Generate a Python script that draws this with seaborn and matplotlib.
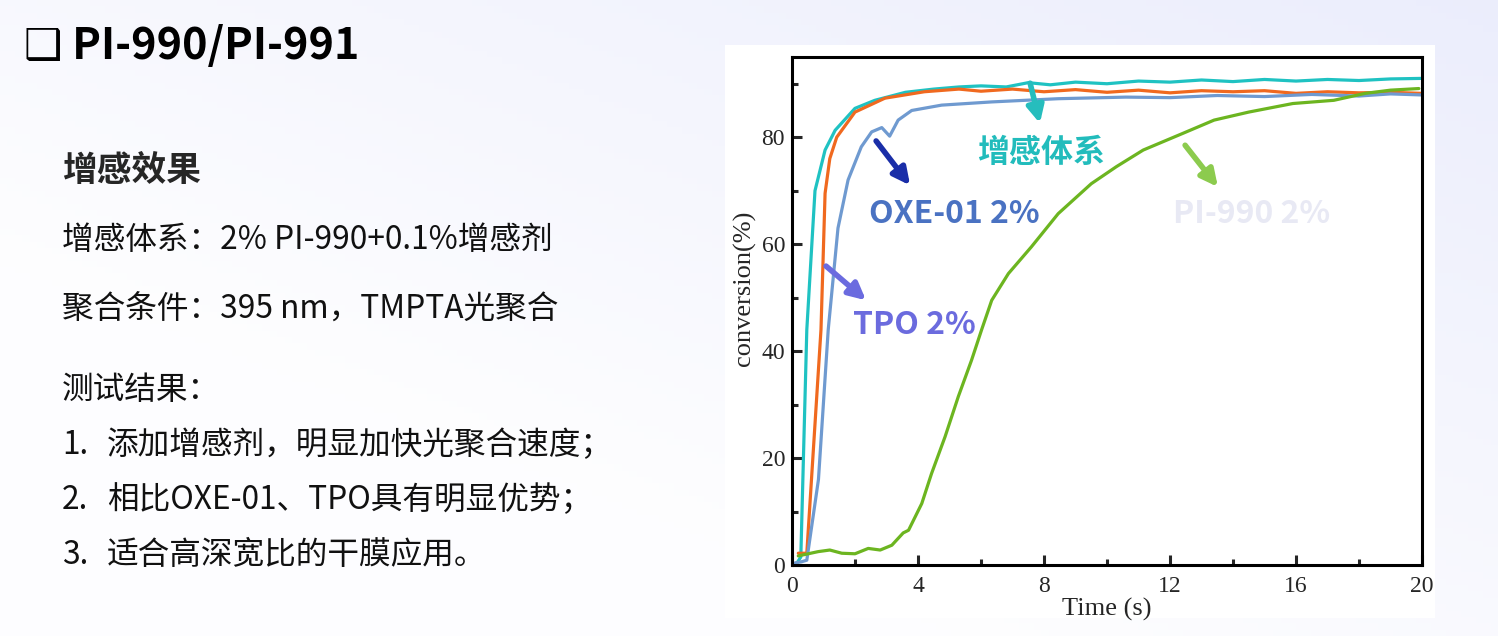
import numpy as np
import pandas as pd
import matplotlib.pyplot as plt
import seaborn as sns
from matplotlib.patches import Rectangle

# Curve data (time in s, conversion in %)
t_sens = [0.15, 0.28, 0.47, 0.73, 1.05, 1.37, 2.0, 2.63, 3.6, 4.5, 5.3, 6.0, 6.8, 7.5, 8.2, 9.0,
          10.0, 11.0, 12.0, 13.0, 14.0, 15.0, 16.0, 17.0, 18.0, 19.0, 20.0]
v_sens = [0.3, 1.5, 44.0, 70.0, 77.6, 81.3, 85.4, 86.9, 88.4, 89.0, 89.4, 89.6, 89.4, 90.2, 89.8, 90.3,
          90.0, 90.5, 90.3, 90.7, 90.4, 90.8, 90.5, 90.8, 90.6, 90.9, 91.0]

t_tpo = [0.2, 0.47, 0.92, 1.05, 1.2, 1.42, 2.0, 2.95, 4.2, 5.3, 6.0, 7.0, 8.0, 9.0, 10.0, 11.0,
         12.0, 13.0, 14.0, 15.0, 16.0, 17.0, 18.0, 19.0, 20.0]
v_tpo = [2.2, 2.2, 44.0, 69.5, 76.0, 80.0, 84.7, 87.3, 88.5, 89.0, 88.6, 89.0, 88.5, 88.9, 88.4, 88.8,
         88.3, 88.7, 88.5, 88.7, 88.2, 88.5, 88.3, 88.4, 88.2]

t_oxe = [0.1, 0.3, 0.47, 0.84, 1.15, 1.46, 1.78, 2.2, 2.53, 2.85, 3.1, 3.37, 3.8, 4.75, 6.34, 8.45,
         10.6, 12.0, 13.5, 15.0, 16.5, 18.0, 19.0, 20.0]
v_oxe = [0.4, 0.6, 0.9, 16.0, 44.0, 63.0, 72.0, 78.2, 81.0, 81.8, 80.2, 83.2, 85.0, 86.0, 86.6, 87.2,
         87.5, 87.4, 87.8, 87.6, 88.0, 87.7, 88.1, 87.9]

t_pi990 = [0.2, 0.83, 1.2, 1.58, 2.0, 2.42, 2.8, 3.17, 3.53, 3.7, 4.12, 4.43, 4.86, 5.28, 5.7, 6.02,
           6.34, 6.87, 7.6, 8.45, 9.5, 10.3, 11.15, 12.4, 13.4, 14.5, 15.9, 17.2, 18.2, 19.0, 19.9]
v_pi990 = [1.7, 2.5, 2.8, 2.2, 2.1, 3.1, 2.8, 3.7, 6.0, 6.5, 11.5, 17.1, 24.0, 31.5, 38.3, 44.0,
           49.5, 54.5, 59.5, 65.7, 71.3, 74.5, 77.6, 80.7, 83.2, 84.7, 86.3, 86.9, 88.2, 88.8, 89.1]

series_names = ["增感体系", "TPO 2%", "OXE-01 2%", "PI-990 2%"]
series_colors = ["#1fc2c2", "#f0691f", "#6f9ad0", "#6cb520"]

df = pd.concat([
    pd.DataFrame({"Time": t_sens, "conv": v_sens, "series": series_names[0]}),
    pd.DataFrame({"Time": t_tpo, "conv": v_tpo, "series": series_names[1]}),
    pd.DataFrame({"Time": t_oxe, "conv": v_oxe, "series": series_names[2]}),
    pd.DataFrame({"Time": t_pi990, "conv": v_pi990, "series": series_names[3]}),
])

sns.set_style("ticks")
plt.rcParams['font.family'] = ['Noto Sans CJK SC', 'DejaVu Sans']

W, H = 1498, 636
fig = plt.figure(figsize=(W / 100, H / 100), dpi=100)

# slide background with a soft lavender gradient
bg = fig.add_axes([0, 0, 1, 1], zorder=-5)
yy, xx = np.mgrid[0:1:100j, 0:1:200j]
grad = np.clip(0.55 * xx + 0.6 * (1 - yy) - 0.35, 0, 1)
c0 = np.array([0.995, 0.995, 1.0])
c1 = np.array([0.905, 0.915, 0.985])
img = c0 + grad[..., None] * (c1 - c0)
bg.imshow(img, extent=[0, 1, 0, 1], aspect='auto', origin='upper')
# white panel behind the chart
bg.add_patch(Rectangle((725 / W, 1 - 618 / H), 710 / W, 573 / H,
                       facecolor='white', edgecolor='none'))
bg.set_xlim(0, 1)
bg.set_ylim(0, 1)
bg.set_axis_off()

# left-hand text
fig.text(24 / W, 1 - 46 / H, "❑ PI-990/PI-991", fontsize=31, fontweight='bold',
         va='center', ha='left', color='black')
fig.text(62 / W, 1 - 170 / H, "增感效果", fontsize=25, fontweight='bold', va='center', ha='left')
body = [
    (240, "增感体系：2% PI-990+0.1%增感剂"),
    (310, "聚合条件：395 nm，TMPTA光聚合"),
    (390, "测试结果："),
]
for y, s in body:
    fig.text(62 / W, 1 - y / H, s, fontsize=22.8, va='center', ha='left', color='#111111')
items = [
    (445, "1.", "添加增感剂，明显加快光聚合速度；"),
    (500, "2.", "相比OXE-01、TPO具有明显优势；"),
    (555, "3.", "适合高深宽比的干膜应用。"),
]
for y, n, s in items:
    fig.text(62 / W, 1 - y / H, n, fontsize=22.8, va='center', ha='left', color='#111111')
    fig.text(107 / W, 1 - y / H, s, fontsize=22.8, va='center', ha='left', color='#111111')

# chart
ax = fig.add_axes([792 / W, 1 - 565 / H, 630 / W, 508 / H], zorder=2)
ax.set_facecolor('white')
sns.lineplot(data=df, x="Time", y="conv", hue="series", hue_order=series_names,
             palette=series_colors, linewidth=2.3, sort=False, estimator=None,
             legend=False, ax=ax)
ax.set_xlim(0, 20)
ax.set_ylim(0, 95)
ax.set_xticks([0, 4, 8, 12, 16, 20])
ax.set_xticks([2, 6, 10, 14, 18], minor=True)
ax.set_yticks([0, 20, 40, 60, 80])
ax.set_yticks([10, 30, 50, 70, 90], minor=True)
ax.tick_params(which='major', direction='in', length=7, width=2.2, labelsize=17,
               top=False, right=False)
ax.tick_params(axis='x', which='major', pad=8)
ax.tick_params(axis='y', which='major', pad=5)
ax.tick_params(which='minor', direction='in', length=4, width=2.2, top=False, right=False)
for sp in ax.spines.values():
    sp.set_linewidth(2.2)
    sp.set_color('black')
serif = ['Liberation Serif', 'DejaVu Serif']
for lab in ax.get_xticklabels() + ax.get_yticklabels():
    lab.set_family(serif)
ax.set_xlabel("Time (s)", family=serif, fontsize=19)
ax.set_ylabel("conversion(%)", family=serif, fontsize=19)
ax.xaxis.set_label_coords(0.5, -0.065)
ax.yaxis.set_label_coords(-0.057, 0.545)

# annotations
ax.text(7.9, 77.0, "增感体系", color='#22bcbc', fontsize=23, fontweight='bold', ha='center', va='center')
ax.text(5.14, 65.6, "OXE-01 2%", color='#4a72c2', fontsize=23, fontweight='bold', ha='center', va='center')
ax.text(3.9, 44.9, "TPO 2%", color='#6b6bde', fontsize=23, fontweight='bold', ha='center', va='center')
ax.text(14.6, 65.6, "PI-990 2%", color='#e8e9f4', fontsize=23, fontweight='bold', ha='center', va='center')

arrows = [
    ((7.56, 90.1), (7.87, 82.6), '#26bdbd'),
    ((2.67, 79.3), (3.75, 71.0), '#1a2ea8'),
    ((1.08, 55.9), (2.35, 49.5), '#6b6bdf'),
    ((12.48, 78.5), (13.52, 70.7), '#8ccb4e'),
]
for tail, head, col in arrows:
    ax.annotate("", xy=head, xytext=tail,
                arrowprops=dict(arrowstyle='-|>,head_length=1.0,head_width=0.5',
                                color=col, lw=4, shrinkA=0, shrinkB=0))

fig.savefig("out.png", dpi=100)
